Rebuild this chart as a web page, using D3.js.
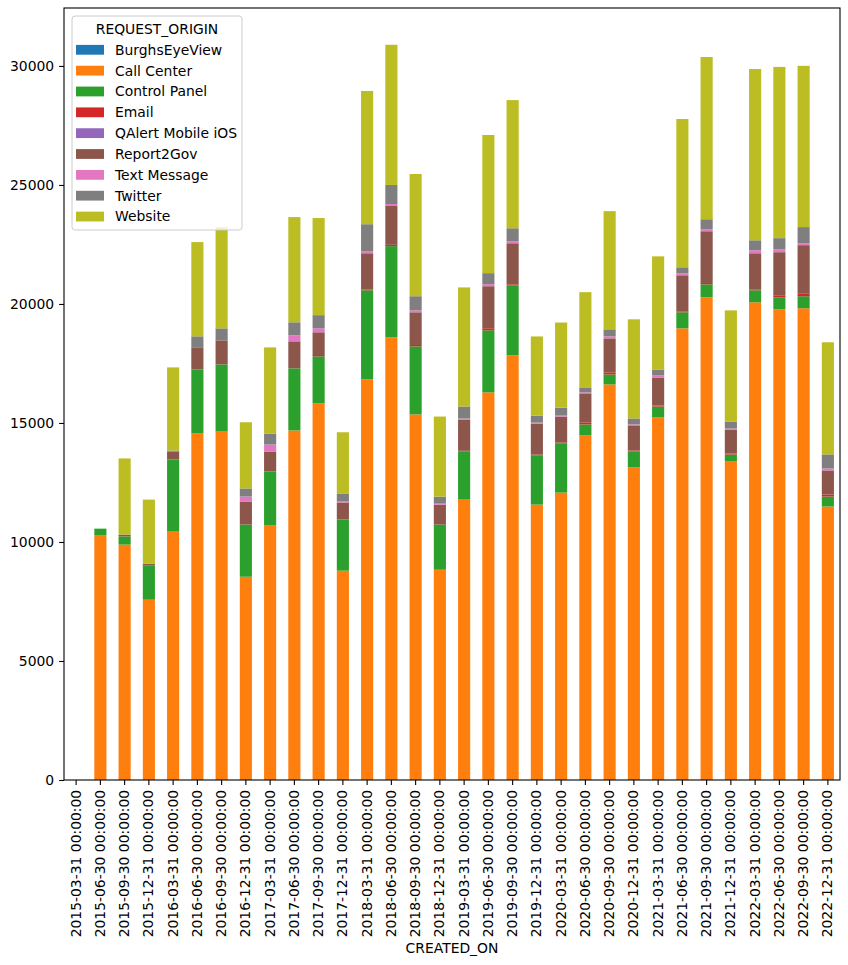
<!DOCTYPE html>
<html>
<head>
<meta charset="utf-8">
<script src="https://cdn.jsdelivr.net/npm/d3@7"></script>
<style>
  body { margin: 0; background: #fff; }
  text { font-family: "DejaVu Sans", sans-serif; fill: #000; }
</style>
</head>
<body>
<svg id="chart" width="848" height="965"></svg>
<script>
var WIDTH = 848
var HEIGHT = 965

// quarter ends
var dates = ["2015-03-31", "2015-06-30", "2015-09-30", "2015-12-31",
    "2016-03-31", "2016-06-30", "2016-09-30", "2016-12-31",
    "2017-03-31", "2017-06-30", "2017-09-30", "2017-12-31",
    "2018-03-31", "2018-06-30", "2018-09-30", "2018-12-31",
    "2019-03-31", "2019-06-30", "2019-09-30", "2019-12-31",
    "2020-03-31", "2020-06-30", "2020-09-30", "2020-12-31",
    "2021-03-31", "2021-06-30", "2021-09-30", "2021-12-31",
    "2022-03-31", "2022-06-30", "2022-09-30", "2022-12-31"];

var origins = ["BurghsEyeView", "Call Center", "Control Panel", "Email",
    "QAlert Mobile iOS", "Report2Gov", "Text Message", "Twitter", "Website"];

var burghsEyeView = [0, 0, 0, 0, 0, 0, 0, 0, 0, 0, 0, 0, 0, 0, 0, 0,
    0, 0, 0, 0, 0, 0, 0, 0, 0, 0, 0, 0, 0, 0, 0, 0];
var callCenter = [0, 10270, 9890, 7575, 10435, 14560, 14640, 8540,
    10690, 14685, 15820, 8795, 16830, 18600, 15360, 8835,
    11780, 16285, 17840, 11570, 12075, 14475, 16620, 13130,
    15230, 18975, 20280, 13380, 20070, 19775, 19820, 11490];
var controlPanel = [0, 290, 340, 1430, 3030, 2690, 2820, 2190,
    2270, 2610, 1980, 2150, 3745, 3830, 2860, 1895,
    2020, 2610, 2945, 2060, 2060, 465, 420, 675,
    460, 675, 545, 295, 505, 505, 505, 420];
var email = [0, 0, 0, 0, 0, 0, 0, 0,
    0, 0, 55, 0, 30, 55, 55, 0,
    30, 85, 40, 40, 40, 85, 85, 40,
    40, 40, 55, 40, 40, 85, 125, 85];
var qalertIOS = [0, 0, 0, 0, 0, 0, 0, 0, 0, 0, 0, 0, 0, 0, 0, 0,
    0, 0, 0, 0, 0, 0, 0, 0, 0, 0, 0, 0, 0, 0, 0, 0];
var report2Gov = [0, 0, 80, 85, 340, 930, 1010, 970,
    840, 1135, 955, 715, 1525, 1630, 1375, 840,
    1315, 1765, 1725, 1305, 1095, 1220, 1430, 1055,
    1180, 1515, 2175, 1010, 1515, 1810, 2020, 1010];
var textMessage = [0, 0, 0, 0, 0, 0, 0, 210,
    295, 250, 170, 40, 85, 85, 85, 40,
    40, 85, 85, 40, 40, 40, 85, 40,
    85, 85, 85, 40, 125, 125, 85, 85];
var twitter = [0, 0, 0, 0, 40, 460, 505, 340,
    460, 550, 550, 340, 1135, 800, 590, 295,
    505, 465, 545, 295, 335, 210, 295, 250,
    250, 250, 420, 295, 420, 465, 675, 590];
var website = [0, 0, 3200, 2690, 3490, 3960, 4250, 2780,
    3620, 4420, 4080, 2570, 5600, 5890, 5135, 3365,
    5005, 5805, 5385, 3325, 3575, 4000, 4965, 4165,
    4755, 6230, 6815, 4670, 7195, 7195, 6775, 4710];

var yTicks = [0, 5000, 10000, 15000, 20000, 25000, 30000];

var colors = ["#1f77b4", "#ff7f0e", "#2ca02c", "#d62728", "#9467bd",
    "#8c564b", "#e377c2", "#7f7f7f", "#bcbd22"];

var seriesValues = [burghsEyeView, callCenter, controlPanel, email, qalertIOS,
    report2Gov, textMessage, twitter, website];

// table for d3.stack
var rows = dates.map(function (d, i) {
    var r = { date: d };
    origins.forEach(function (o, j) { r[o] = seriesValues[j][i]; });
    return r;
});

var margin = { left: 64, top: 8, right: 840, bottom: 780 };

var svg = d3.select("#chart");

var x = d3.scaleBand()
    .domain(dates)
    .range([margin.left, margin.right])
    .paddingInner(0.5)
    .paddingOuter(0.25);

var stacked = d3.stack().keys(origins)(rows);
var maxTotal = d3.max(rows, function (r) {
    return d3.sum(origins, function (o) { return r[o]; });
});

var y = d3.scaleLinear()
    .domain([0, maxTotal * 1.05])
    .range([margin.bottom, margin.top]);

// bars
svg.append("g")
    .selectAll("g")
    .data(stacked)
    .join("g")
    .attr("fill", function (d, i) { return colors[i]; })
    .selectAll("rect")
    .data(function (d) { return d; })
    .join("rect")
    .attr("x", function (d) { return x(d.data.date); })
    .attr("width", x.bandwidth())
    .attr("y", function (d) { return y(d[1]); })
    .attr("height", function (d) { return y(d[0]) - y(d[1]); });

// axes
var xAxis = svg.append("g")
    .attr("transform", "translate(0," + margin.bottom + ")")
    .call(d3.axisBottom(x).tickSize(4.9).tickPadding(4.9)
        .tickFormat(function (d) { return d + " 00:00:00"; }));
xAxis.select(".domain").remove();
xAxis.selectAll("text")
    .style("font-size", "13.9px")
    .attr("text-anchor", "end")
    .attr("transform", "rotate(-90)")
    .attr("x", -9.8)
    .attr("y", 0)
    .attr("dy", "0.33em");

var yAxis = svg.append("g")
    .attr("transform", "translate(" + margin.left + ",0)")
    .call(d3.axisLeft(y).tickValues(yTicks).tickSize(4.9).tickPadding(4.9)
        .tickFormat(d3.format("d")));
yAxis.select(".domain").remove();
yAxis.selectAll("text").style("font-size", "13.9px");

svg.selectAll(".tick line").attr("stroke", "#000").attr("stroke-width", 1.1);

// frame
svg.append("rect")
    .attr("x", margin.left)
    .attr("y", margin.top)
    .attr("width", margin.right - margin.left)
    .attr("height", margin.bottom - margin.top)
    .attr("fill", "none")
    .attr("stroke", "#000")
    .attr("stroke-width", 1.1);

svg.append("text")
    .attr("x", (margin.left + margin.right) / 2)
    .attr("y", 953)
    .attr("text-anchor", "middle")
    .style("font-size", "13.9px")
    .text("CREATED_ON");

// legend
var legend = svg.append("g");
legend.append("rect")
    .attr("x", 72)
    .attr("y", 16)
    .attr("width", 170)
    .attr("height", 214)
    .attr("rx", 3)
    .attr("fill", "#fff")
    .attr("fill-opacity", 0.8)
    .attr("stroke", "#ccc")
    .attr("stroke-width", 1);
legend.append("text")
    .attr("x", 157)
    .attr("y", 29.5)
    .attr("dy", "0.35em")
    .attr("text-anchor", "middle")
    .style("font-size", "13.9px")
    .text("REQUEST_ORIGIN");

var items = legend.selectAll(".item")
    .data(origins)
    .join("g")
    .attr("class", "item")
    .attr("transform", function (d, i) { return "translate(0," + (49.8 + i * 20.84) + ")"; });
items.append("rect")
    .attr("x", 76)
    .attr("y", -4.9)
    .attr("width", 28)
    .attr("height", 9.8)
    .attr("fill", function (d, i) { return colors[i]; });
items.append("text")
    .attr("x", 115)
    .attr("dy", "0.35em")
    .style("font-size", "13.9px")
    .text(function (d) { return d; });
</script>
</body>
</html>
